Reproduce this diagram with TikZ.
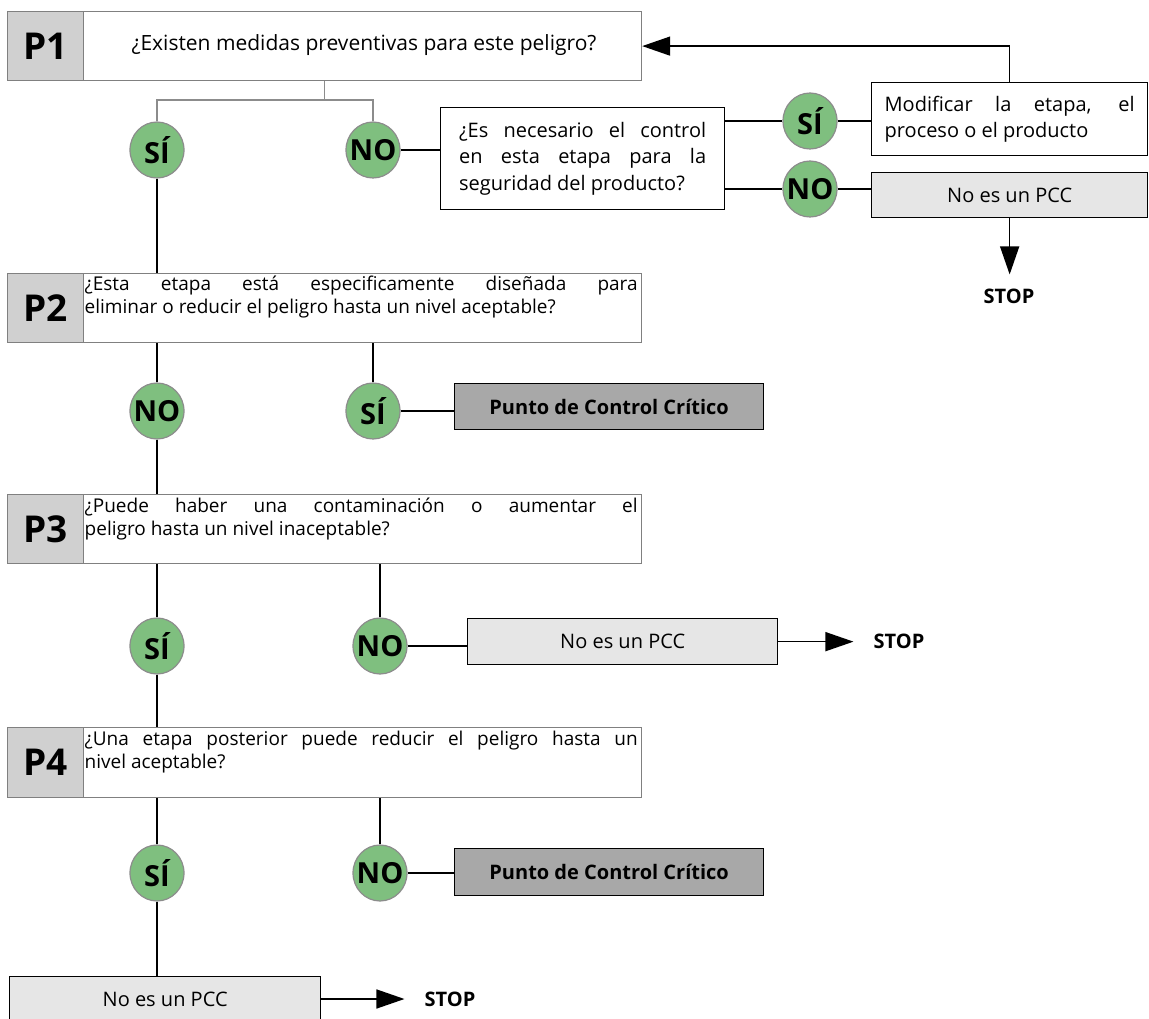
\documentclass[tikz,border=0pt]{standalone}
\usepackage{fontspec}
\setmainfont{Open Sans}
\usetikzlibrary{arrows.meta,shapes.geometric}

\definecolor{answergreen}{HTML}{7FBF7F}
\definecolor{ringgrey}{HTML}{8C8C8C}
\definecolor{framegrey}{HTML}{808080}
\definecolor{labelgrey}{HTML}{D0D0D0}
\definecolor{lightbox}{HTML}{E6E6E6}
\definecolor{darkbox}{HTML}{A8A8A8}

\newcommand{\fs}[1]{\fontsize{#1}{#1}\selectfont}

\begin{document}
\begin{tikzpicture}[x=1pt,y=-1pt,
  qframe/.style={rectangle, draw=framegrey, line width=1.2pt, fill=white,
    anchor=north west, inner sep=0pt, minimum width=634pt, minimum height=69pt},
  qlabel/.style={rectangle, draw=framegrey, line width=1.2pt, fill=labelgrey,
    anchor=north west, inner sep=0pt, minimum width=76pt, minimum height=69pt,
    font=\fs{37}\bfseries},
  qtext/.style={anchor=north west, inner sep=1.5pt, text width=553pt,
    align=justify, font=\fontsize{19}{23}\selectfont},
  answer/.style={ellipse, draw=ringgrey, line width=1.2pt, fill=answergreen,
    minimum width=54pt, minimum height=56pt, inner xsep=-10pt, inner ysep=0pt,
    font=\fs{29}\bfseries},
  textbox/.style={rectangle, draw=black, line width=1.3pt, fill=white,
    anchor=north west, inner ysep=0pt, align=justify,
    font=\fontsize{20}{26.5}\selectfont},
  nopcc/.style={rectangle, draw=black, line width=1.3pt, fill=lightbox,
    anchor=north west, inner sep=0pt, font=\fs{20}},
  pcc/.style={rectangle, draw=black, line width=1.3pt, fill=darkbox,
    anchor=north west, inner sep=0pt, minimum width=309pt, minimum height=46pt,
    font=\fs{20}\bfseries},
  stoptext/.style={inner sep=0pt, font=\fs{20}\bfseries},
  link/.style={draw=black, line width=1.5pt},
  branch/.style={draw=ringgrey, line width=1.5pt},
  flow/.style={link, -{Triangle[length=28pt,width=19pt]}},
]
\useasboundingbox (0,0) rectangle (1149,1019);

% ---------- P1 ----------
\node[qframe] (p1) at (7,11) {};
\node[qlabel] (p1l) at (7,11) {P1};
\node[font=\fs{21}] (p1t) at (364,45) {¿Existen medidas preventivas para este peligro?};

\node[answer] (si1) at (157,150) {SÍ};
\node[answer] (no1) at (373,150) {NO};

\node[textbox, text width=247pt, inner xsep=18.5pt, minimum height=102pt] (q)
  at (440,107) {¿Es necesario el control\linebreak en esta etapa para la\linebreak seguridad del producto?};

\node[answer] (si2) at (810,121) {SÍ};
\node[answer] (no2) at (810,189) {NO};

\node[textbox, text width=250pt, inner xsep=13pt, minimum height=73pt] (mod)
  at (871,82) {Modificar la etapa, el\linebreak proceso o el producto};
\node[nopcc, minimum width=276pt, minimum height=45pt] (nopcc1) at (871,172) {No es un PCC};
\node[stoptext] (stop1) at (1009,296) {STOP};

\draw[branch] (p1.south) -- ++(0,19) coordinate (fork);
\draw[branch] (fork) -| (si1);
\draw[branch] (fork) -| (no1);
\draw[link] (no1) -- (no1 -| q.west);
\draw[link] (q.east |- si2) -- (si2);
\draw[link] (q.east |- no2) -- (no2);
\draw[link] (si2) -- (si2 -| mod.west);
\draw[link] (no2) -- (no2 -| nopcc1.west);
\draw[flow, shorten >=14pt] (nopcc1.south) -- (nopcc1.south |- stop1.north);
\draw[flow] (mod.north) |- (p1.east);

% ---------- P2 ----------
\node[qframe] (p2) at (7,273) {};
\node[qlabel] (p2l) at (7,273) {P2};
\node[qtext] (p2t) at (83,274) {¿Esta etapa está especificamente diseñada para\linebreak eliminar o reducir el peligro hasta un nivel aceptable?};

\node[answer] (no3) at (157,411) {NO};
\node[answer] (si3) at (373,411) {SÍ};
\node[pcc] (pcc1) at (454,383) {Punto de Control Crítico};

\draw[link] (si1) -- (si1 |- p2.north);
\draw[link] (p2.south -| no3) -- (no3);
\draw[link] (p2.south -| si3) -- (si3);
\draw[link] (si3) -- (si3 -| pcc1.west);

% ---------- P3 ----------
\node[qframe] (p3) at (7,494) {};
\node[qlabel] (p3l) at (7,494) {P3};
\node[qtext] (p3t) at (83,496) {¿Puede haber una contaminación o aumentar el\linebreak peligro hasta un nivel inaceptable?};

\node[answer] (si4) at (157,646) {SÍ};
\node[answer] (no4) at (380,646) {NO};
\node[nopcc, minimum width=310pt, minimum height=46pt] (nopcc2) at (467,618) {No es un PCC};
\node[stoptext] (stop2) at (899,641) {STOP};

\draw[link] (no3) -- (no3 |- p3.north);
\draw[link] (p3.south -| si4) -- (si4);
\draw[link] (p3.south -| no4) -- (no4);
\draw[link] (no4) -- (no4 -| nopcc2.west);
\draw[flow, shorten >=20pt] (nopcc2.east) -- (nopcc2.east -| stop2.west);

% ---------- P4 ----------
\node[qframe, minimum height=70pt] (p4) at (7,727) {};
\node[qlabel, minimum height=70pt] (p4l) at (7,727) {P4};
\node[qtext] (p4t) at (83,729) {¿Una etapa posterior puede reducir el peligro hasta un\linebreak nivel aceptable?};

\node[answer] (si5) at (157,873) {SÍ};
\node[answer] (no5) at (380,873) {NO};
\node[pcc, minimum height=47pt] (pcc2) at (454,848) {Punto de Control Crítico};
\node[nopcc, minimum width=311pt, minimum height=46pt] (nopcc3) at (9,976) {No es un PCC};
\node[stoptext] (stop3) at (450,999) {STOP};

\draw[link] (si4) -- (si4 |- p4.north);
\draw[link] (p4.south -| si5) -- (si5);
\draw[link] (p4.south -| no5) -- (no5);
\draw[link] (no5) -- (no5 -| pcc2.west);
\draw[link] (si5) -- (si5 |- nopcc3.north);
\draw[flow, shorten >=20pt] (nopcc3.east |- stop3) -- (stop3.west);
\end{tikzpicture}
\end{document}
